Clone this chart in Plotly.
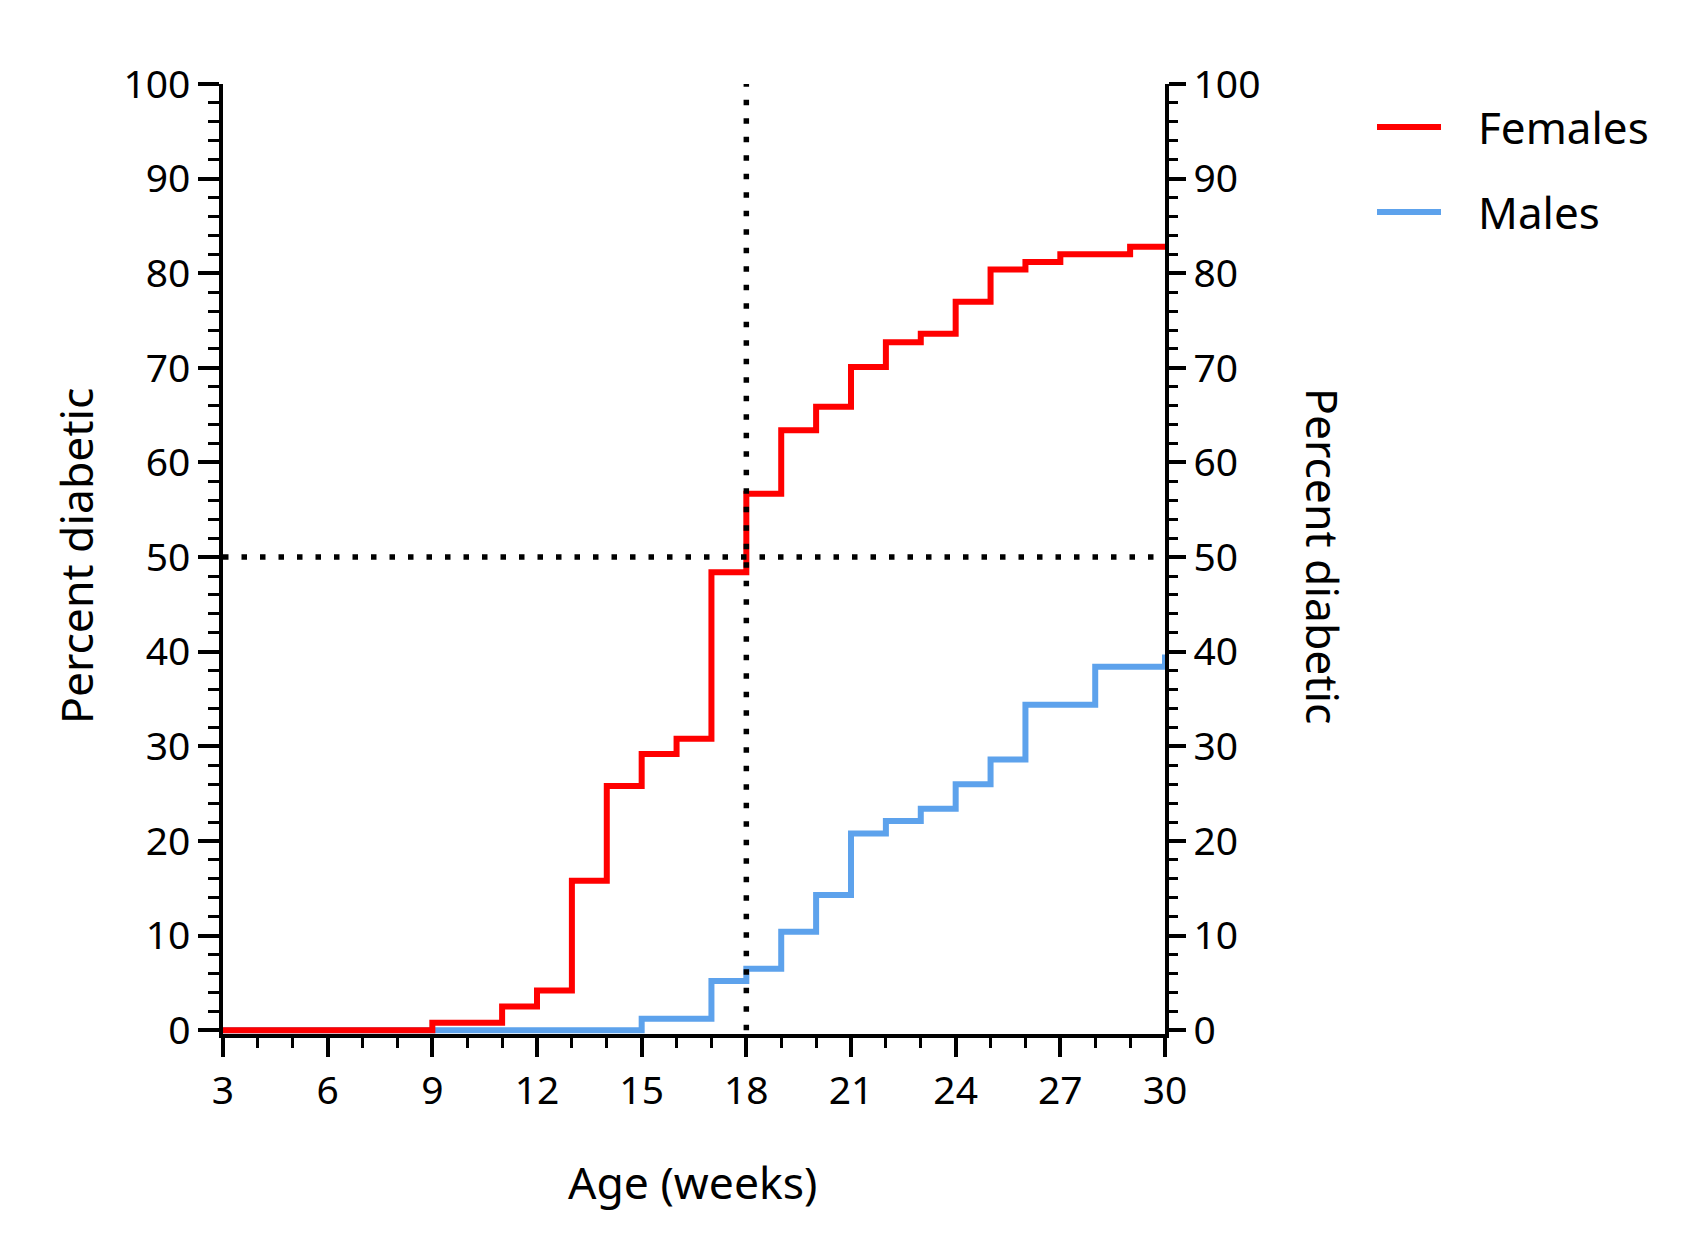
import plotly.graph_objects as go

# Age in weeks where each step starts, and percent diabetic after that step
female_weeks = [3, 9, 11, 12, 13, 14, 15, 16, 17, 18, 19, 20, 21, 22, 23, 24, 25, 26, 27, 29, 30]
female_pct = [0, 0.8, 2.5, 4.2, 15.8, 25.8, 29.2, 30.8, 48.4, 56.7, 63.4, 65.9, 70.1, 72.7,
              73.6, 77.0, 80.4, 81.2, 82.0, 82.8, 82.8]

male_weeks = [3, 15, 17, 18, 19, 20, 21, 22, 23, 24, 25, 26, 28, 30]
male_pct = [0, 1.2, 5.2, 6.5, 10.4, 14.3, 20.8, 22.1, 23.4, 26.0, 28.6, 34.4, 38.4, 39.7]

series_names = ["Females", "Males"]
series_colors = ["#FF0000", "#5DA2EC"]

x_ticks = [3, 6, 9, 12, 15, 18, 21, 24, 27, 30]
y_ticks = [0, 10, 20, 30, 40, 50, 60, 70, 80, 90, 100]

median_week = 18
half_pct = 50

W, H = 1694, 1255
L, R, T, B = 223, 529, 84, 221
FONT = "Noto Sans"


def px_x(px):
    return (px - L) / (W - L - R)


def px_y(py):
    return (H - B - py) / (H - T - B)


fig = go.Figure()

fig.add_trace(go.Scatter(x=male_weeks, y=male_pct, mode="lines", line_shape="hv",
                         line=dict(color=series_colors[1], width=6), name=series_names[1]))
fig.add_trace(go.Scatter(x=female_weeks, y=female_pct, mode="lines", line_shape="hv",
                         line=dict(color=series_colors[0], width=6), name=series_names[0]))

# dotted guide lines at the median
dots = dict(color="black", width=5.5, dash="5.5px,13px")
fig.add_shape(type="line", xref="x", yref="y", x0=x_ticks[0], x1=x_ticks[-1],
              y0=half_pct, y1=half_pct, line=dots, layer="above")
fig.add_shape(type="line", xref="x", yref="y", x0=median_week, x1=median_week,
              y0=y_ticks[0], y1=y_ticks[-1], line=dots, layer="above")

# hand made legend
for i, (name, col) in enumerate(zip(series_names, series_colors)):
    yy = px_y(127 + i * 85)
    fig.add_shape(type="line", xref="paper", yref="paper", x0=px_x(1377), x1=px_x(1441),
                  y0=yy, y1=yy, line=dict(color=col, width=6))
    fig.add_annotation(text=name, xref="paper", yref="paper", x=px_x(1476), y=yy,
                       xanchor="left", yanchor="middle", showarrow=False,
                       font=dict(family=FONT, size=44, color="black"))

# axis titles
title_font = dict(family=FONT, size=44.5, color="black")
fig.add_annotation(text="Age (weeks)", xref="paper", yref="paper", x=px_x(692), y=px_y(1181),
                   xanchor="center", yanchor="middle", showarrow=False, font=title_font)
fig.add_annotation(text="Percent diabetic", xref="paper", yref="paper", x=px_x(75), y=px_y(556),
                   xanchor="center", yanchor="middle", showarrow=False, textangle=-90,
                   font=title_font)
fig.add_annotation(text="Percent diabetic", xref="paper", yref="paper", x=px_x(1324), y=px_y(556),
                   xanchor="center", yanchor="middle", showarrow=False, textangle=90,
                   font=title_font)

tick_font = dict(family=FONT, size=39, color="black")
fig.update_layout(
    width=W, height=H,
    margin=dict(l=L, r=R, t=T, b=B),
    paper_bgcolor="white", plot_bgcolor="white",
    showlegend=False,
    xaxis=dict(range=[3, 30], tickvals=x_ticks, showgrid=False, zeroline=False,
               showline=True, linecolor="black", linewidth=3.5,
               ticks="outside", ticklen=19, tickwidth=3.5, tickcolor="black",
               minor=dict(dtick=1, ticks="outside", ticklen=10, tickwidth=3, tickcolor="black"),
               tickfont=tick_font, ticklabelstandoff=0),
    yaxis=dict(range=[-0.4, 100], tickvals=y_ticks, showgrid=False, zeroline=False,
               showline=True, linecolor="black", linewidth=3.5,
               ticks="outside", ticklen=21, tickwidth=3.5, tickcolor="black",
               minor=dict(tick0=0, dtick=2, ticks="outside", ticklen=11, tickwidth=3, tickcolor="black"),
               tickfont=tick_font, ticklabelstandoff=0),
    yaxis2=dict(range=[-0.4, 100], tickvals=y_ticks, overlaying="y", side="right",
                showgrid=False, zeroline=False, anchor="x",
                showline=True, linecolor="black", linewidth=3.5, layer="below traces",
                ticks="outside", ticklen=17, tickwidth=3.5, tickcolor="black",
                minor=dict(tick0=0, dtick=2, ticks="outside", ticklen=9, tickwidth=3, tickcolor="black"),
                tickfont=tick_font, ticklabelstandoff=0),
)
# keep the right axis drawn
fig.add_trace(go.Scatter(x=[None], y=[None], yaxis="y2", showlegend=False, hoverinfo="skip"))

fig.write_html("out.html", config={"displayModeBar": False},
               post_script="document.body.style.margin='0px';")
